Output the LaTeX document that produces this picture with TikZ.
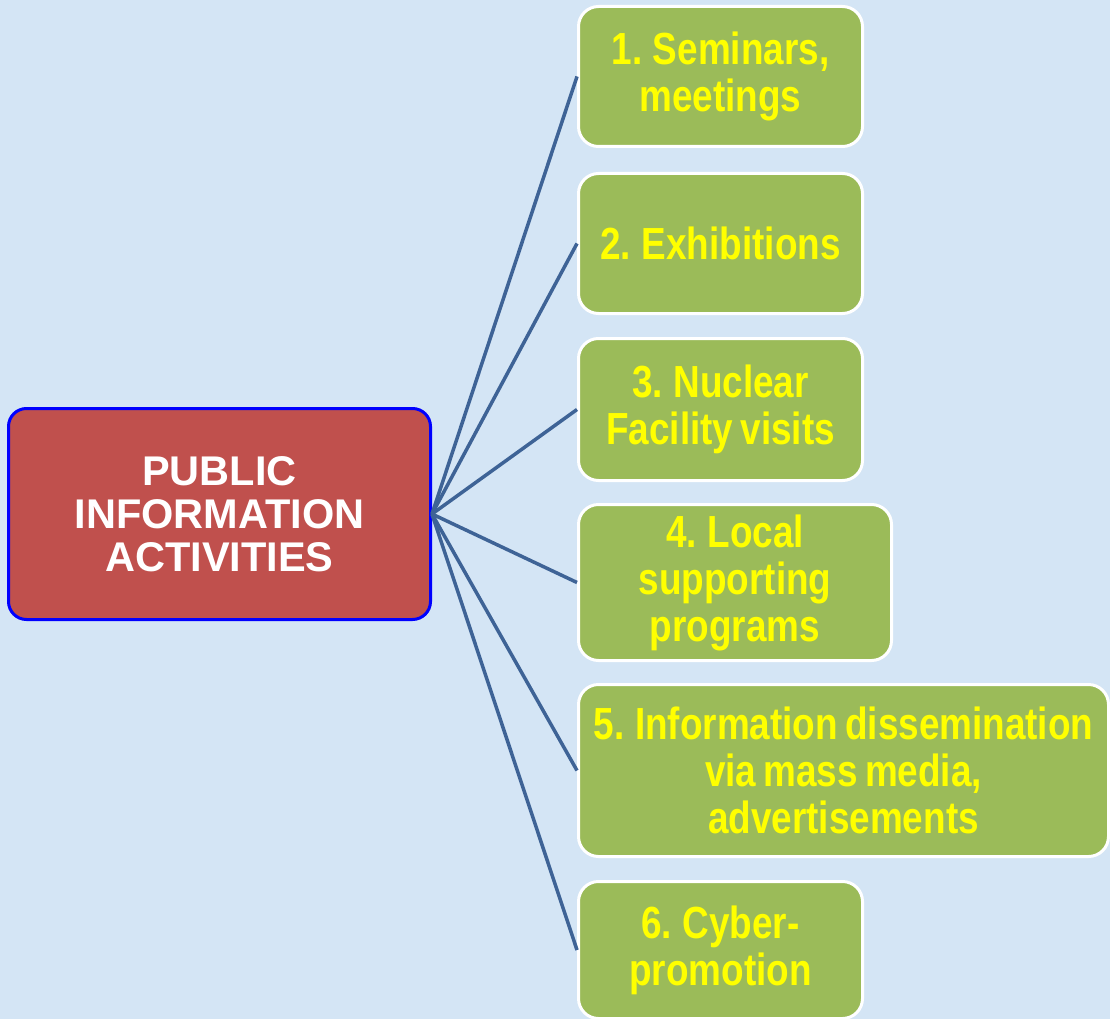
\documentclass[tikz,border=0pt]{standalone}
\usepackage{fontspec}
\setmainfont{Liberation Sans}
\newfontfamily\narrowbold[FakeStretch=0.82,WordSpace=0.7]{Liberation Sans Bold}
\definecolor{bgblue}{RGB}{212,229,245}
\definecolor{boxgreen}{RGB}{155,187,89}
\definecolor{boxred}{RGB}{192,80,77}
\definecolor{linkblue}{RGB}{62,99,150}
\definecolor{txtyellow}{RGB}{255,255,0}
\begin{document}
\begin{tikzpicture}[x=1pt,y=-1pt,
  greenbox/.style={draw=white, line width=3pt, fill=boxgreen, rounded corners=20pt,
    inner sep=0pt, align=center, text=txtyellow,
    font=\narrowbold\fontsize{45}{47}\selectfont},
  redbox/.style={draw=blue, line width=3pt, fill=boxred, rounded corners=18pt,
    inner sep=0pt, align=center, text=white,
    font=\bfseries\fontsize{41.5}{43}\selectfont,
    minimum width=422pt, minimum height=211pt},
  link/.style={draw=linkblue, line width=3.5pt}]
\fill[bgblue] (0,0) rectangle (1110,1019);
\useasboundingbox (0,0) rectangle (1110,1019);

\node[redbox] (c) at (219.5,514) {PUBLIC\\INFORMATION\\ACTIVITIES};

\node[greenbox, minimum width=284pt, minimum height=140pt] (b1) at (720.5,76.5) {1. Seminars,\\meetings};
\node[greenbox, minimum width=284pt, minimum height=140pt] (b2) at (720.5,243.5) {2. Exhibitions};
\node[greenbox, minimum width=284pt, minimum height=142pt] (b3) at (720.5,409.5) {3. Nuclear\\Facility visits};
\node[greenbox, minimum width=313pt, minimum height=156pt] (b4) at (735,582.5) {4. Local\\supporting\\programs};
\node[greenbox, minimum width=530pt, minimum height=172pt] (b5) at (843.5,770.5) {5. Information dissemination\\via mass media,\\advertisements};
\node[greenbox, minimum width=284pt, minimum height=137pt] (b6) at (720.5,950) {6. Cyber-\\promotion};

\foreach \b in {b1,b2,b3,b4,b5,b6}
  \draw[link] (c.east) -- (\b.west);
\end{tikzpicture}
\end{document}
